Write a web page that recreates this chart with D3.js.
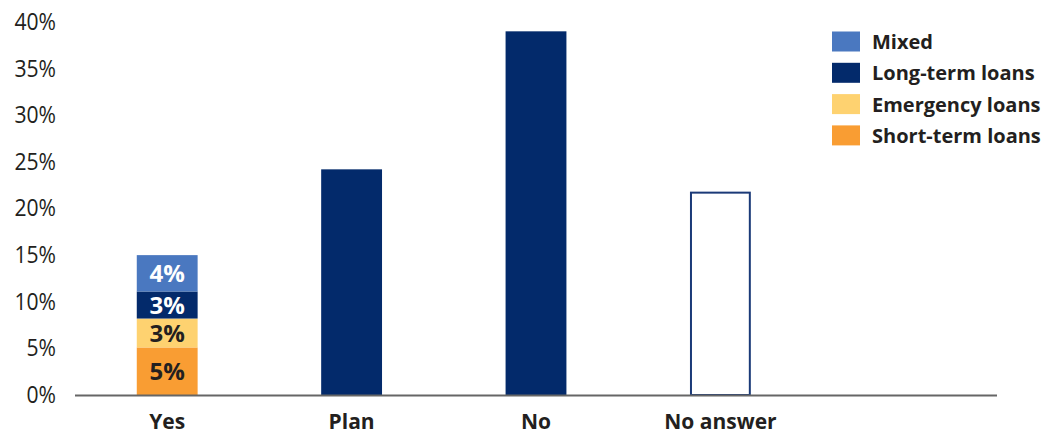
<!DOCTYPE html>
<html>
<head>
<meta charset="utf-8">
<script src="https://cdn.jsdelivr.net/npm/d3@7"></script>
<style>
  html, body { margin: 0; padding: 0; background: #fff; }
  svg { display: block; font-family: "Open Sans", "Noto Sans", sans-serif; }
</style>
</head>
<body>
<svg id="chart" width="1046" height="436"></svg>
<script>
// ---- data ----
const categories = ["Yes", "Plan", "No", "No answer", ""];
const seriesNames = ["Short-term loans", "Emergency loans", "Long-term loans", "Mixed"];
const seriesColors = ["#f99d33", "#fed270", "#032a6b", "#4a78c0"];
const seriesLabelColors = ["#231f20", "#231f20", "#ffffff", "#ffffff"];
const yesValues = [5.1, 3.1, 2.9, 3.9];
const yesLabels = ["5%", "3%", "3%", "4%"];
const planValue = 24.2;
const noValue = 39.0;
const noAnswerValue = 21.7;
const yTicks = [0, 5, 10, 15, 20, 25, 30, 35, 40];
const legendOrder = ["Mixed", "Long-term loans", "Emergency loans", "Short-term loans"];

// ---- layout ----
const svg = d3.select("#chart");
const x = d3.scaleBand().domain(categories).range([75, 997]).paddingInner(0.67).paddingOuter(0.335);
const y = d3.scaleLinear().domain([0, 40]).range([395, 22]);
const textColor = "#231f20";

// y tick labels
const yAxis = d3.axisLeft(y).tickValues(yTicks).tickFormat(d => d + "%").tickSize(0).tickPadding(0);
const yg = svg.append("g").attr("transform", "translate(56,0)").call(yAxis);
yg.select(".domain").remove();
yg.selectAll("text").attr("font-size", 22).attr("fill", textColor)
  .attr("font-family", "'Open Sans', sans-serif")
  .attr("transform", "scale(0.96,1.05)");

// stacked Yes bar
let cum = 0;
const stack = yesValues.map((v, i) => { const s = {y0: cum, y1: cum + v, i}; cum += v; return s; });
const yesG = svg.append("g");
yesG.selectAll("rect").data(stack).join("rect")
  .attr("x", x("Yes")).attr("width", x.bandwidth())
  .attr("y", d => y(d.y1)).attr("height", d => y(d.y0) - y(d.y1))
  .attr("fill", d => seriesColors[d.i]);
yesG.selectAll("text").data(stack).join("text")
  .attr("x", x("Yes") + x.bandwidth() / 2)
  .attr("y", d => (y(d.y0) + y(d.y1)) / 2)
  .attr("dy", "0.37em")
  .attr("text-anchor", "middle")
  .attr("font-size", 24).attr("font-weight", "bold")
  .attr("fill", d => seriesLabelColors[d.i])
  .text(d => yesLabels[d.i]);

// Plan and No bars
const solid = [{c: "Plan", v: planValue}, {c: "No", v: noValue}];
svg.append("g").selectAll("rect").data(solid).join("rect")
  .attr("x", d => x(d.c)).attr("width", x.bandwidth())
  .attr("y", d => y(d.v)).attr("height", d => y(0) - y(d.v))
  .attr("fill", seriesColors[2]);

// No answer outlined bar
svg.append("rect")
  .attr("x", x("No answer") + 1).attr("width", x.bandwidth() - 2)
  .attr("y", y(noAnswerValue)).attr("height", y(0) - y(noAnswerValue))
  .attr("fill", "#fff").attr("stroke", "#1b3a78").attr("stroke-width", 2);

// x axis line
svg.append("line").attr("x1", 75).attr("x2", 997).attr("y1", 395.5).attr("y2", 395.5)
  .attr("stroke", "#666").attr("stroke-width", 2);

// category labels
svg.append("g").selectAll("text").data(categories.filter(c => c)).join("text")
  .attr("x", d => x(d) + x.bandwidth() / 2)
  .attr("y", 429)
  .attr("text-anchor", "middle")
  .attr("font-size", 21).attr("font-weight", "bold").attr("fill", textColor)
  .text(d => d);

// legend
const lg = svg.append("g").attr("transform", "translate(832,0)");
const rows = lg.selectAll("g").data(legendOrder).join("g")
  .attr("transform", (d, i) => `translate(0,${41.5 + i * 31.3})`);
rows.append("rect").attr("x", 0).attr("y", -10).attr("width", 28).attr("height", 20)
  .attr("fill", d => seriesColors[seriesNames.indexOf(d)]);
rows.append("text").attr("x", 40).attr("dy", "0.37em")
  .attr("font-size", 20).attr("font-weight", "bold").attr("fill", textColor)
  .attr("textLength", null)
  .text(d => d);
</script>
</body>
</html>
